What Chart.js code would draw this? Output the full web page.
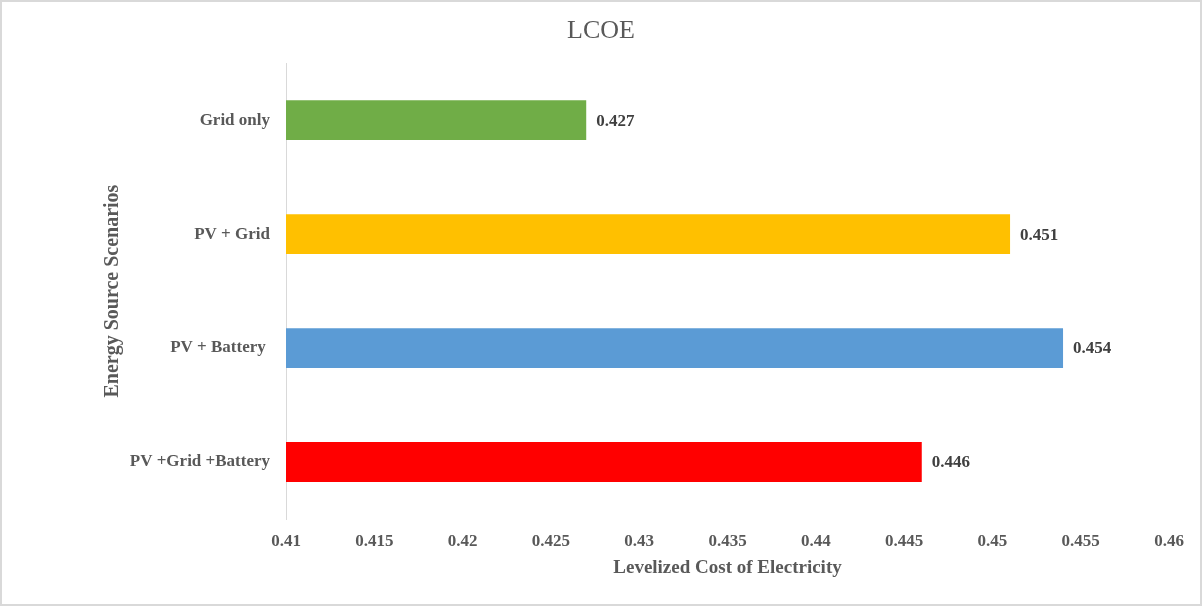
<!DOCTYPE html>
<html>
<head>
<meta charset="utf-8">
<title>LCOE</title>
<script src="https://cdn.jsdelivr.net/npm/chart.js@4/dist/chart.umd.min.js"></script>
<style>
  html, body { margin: 0; padding: 0; background: #fff; }
  #wrap {
    width: 1202px; height: 606px;
    box-sizing: border-box;
    border: 2px solid #d9d9d9;
    position: relative;
  }
  canvas { display: block; }
</style>
</head>
<body>
<div id="wrap"><canvas id="lcoe" width="1198" height="602"></canvas></div>
<script>
// scenarios and their levelized cost
const scenarios = ["Grid only", "PV + Grid", "PV + Battery ", "PV +Grid +Battery"];
const lcoeValues = [0.427, 0.451, 0.454, 0.446];
const barColors = ["#70ad47", "#ffc000", "#5b9bd5", "#ff0000"];
const xTicks = [0.41, 0.415, 0.42, 0.425, 0.43, 0.435, 0.44, 0.445, 0.45, 0.455, 0.46];

const serif = "'Liberation Serif', 'Times New Roman', serif";

// write the value just past the end of each bar
const valueLabels = {
    id: "valueLabels",
    afterDatasetsDraw(chart) {
        const ctx = chart.ctx;
        const meta = chart.getDatasetMeta(0);
        ctx.save();
        ctx.font = "bold 17px " + serif;
        ctx.fillStyle = "#404040";
        ctx.textAlign = "left";
        ctx.textBaseline = "middle";
        meta.data.forEach((bar, i) => {
            ctx.fillText(lcoeValues[i].toFixed(3), bar.x + 10, bar.y + 1);
        });
        ctx.restore();
    }
};

new Chart(document.getElementById("lcoe"), {
    type: "bar",
    data: {
        labels: scenarios,
        datasets: [{
            data: lcoeValues,
            backgroundColor: barColors,
            barPercentage: 0.7,
            categoryPercentage: 0.5
        }]
    },
    plugins: [valueLabels],
    options: {
        indexAxis: "y",
        responsive: false,
        animation: false,
        layout: { padding: { left: 0, right: 0, top: 0, bottom: 25 } },
        plugins: {
            legend: { display: false },
            tooltip: { enabled: false },
            title: {
                display: true,
                text: "LCOE",
                color: "#595959",
                font: { family: serif, size: 26, weight: "normal" },
                padding: { top: 14, bottom: 16 }
            }
        },
        scales: {
            x: {
                min: 0.41,
                max: 0.46,
                afterBuildTicks: scale => {
                    scale.ticks = xTicks.map(v => ({ value: v }));
                },
                grid: { display: false, drawTicks: false },
                border: { display: false },
                ticks: {
                    padding: 12,
                    maxRotation: 0,
                    color: "#595959",
                    font: { family: serif, size: 17, weight: "bold" },
                    callback: v => String(+v.toFixed(3))
                },
                title: {
                    display: true,
                    text: "Levelized Cost of Electricity",
                    color: "#595959",
                    font: { family: serif, size: 19, weight: "bold" },
                    padding: { top: 3, bottom: 0 }
                },
                afterFit: scale => {
                    scale.height = 60;
                    scale.paddingRight = 31;
                }
            },
            y: {
                grid: { display: false, drawTicks: false },
                border: { display: true, color: "#d9d9d9", width: 1 },
                ticks: {
                    padding: 16,
                    color: "#595959",
                    font: { family: serif, size: 17, weight: "bold" }
                },
                title: {
                    display: true,
                    text: "Energy Source Scenarios",
                    color: "#595959",
                    font: { family: serif, size: 20, weight: "bold" },
                    padding: { top: 99, bottom: 0 }
                },
                afterFit: scale => { scale.width = 284; }
            }
        }
    }
});
</script>
</body>
</html>
